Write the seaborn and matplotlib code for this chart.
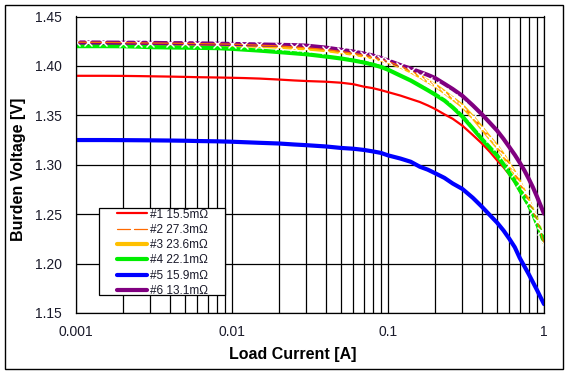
import matplotlib
matplotlib.use("Agg")
import matplotlib.pyplot as plt
import matplotlib.patches as mpatches
from matplotlib.ticker import FixedLocator, FixedFormatter, NullFormatter
import seaborn as sns
import pandas as pd

# ---------------- data ----------------
current = [0.001, 0.0012, 0.0015, 0.002, 0.0025, 0.003, 0.004, 0.005, 0.006, 0.008,
           0.01, 0.012, 0.015, 0.02, 0.025, 0.03, 0.04, 0.05, 0.06, 0.07, 0.08, 0.09,
           0.1, 0.12, 0.14, 0.16, 0.18, 0.2, 0.23, 0.26, 0.3, 0.35, 0.4, 0.45, 0.5,
           0.55, 0.6, 0.65, 0.7, 0.75, 0.8, 0.85, 0.9, 0.95, 1.0]

v1 = [1.3900, 1.3900, 1.3900, 1.3899, 1.3897, 1.3895, 1.3892, 1.3889, 1.3886, 1.3883,
      1.3880, 1.3877, 1.3872, 1.3862, 1.3853, 1.3847, 1.3840, 1.3830, 1.3815, 1.3790,
      1.3775, 1.3755, 1.3735, 1.3700, 1.3665, 1.3635, 1.3600, 1.3565, 1.3510, 1.3465,
      1.3395, 1.3300, 1.3215, 1.3130, 1.3045, 1.2975, 1.2900, 1.2822, 1.2732, 1.2652,
      1.2577, 1.2492, 1.2392, 1.2307, 1.2207]

v2 = [1.4240, 1.4239, 1.4238, 1.4236, 1.4234, 1.4232, 1.4230, 1.4228, 1.4226, 1.4223,
      1.4220, 1.4216, 1.4210, 1.4202, 1.4192, 1.4183, 1.4166, 1.4146, 1.4128, 1.4110,
      1.4090, 1.4068, 1.4045, 1.3999, 1.3950, 1.3900, 1.3850, 1.3808, 1.3738, 1.3672,
      1.3597, 1.3482, 1.3372, 1.3272, 1.3186, 1.3096, 1.3000, 1.2915, 1.2815, 1.2720,
      1.2625, 1.2528, 1.2432, 1.2325, 1.2200]

v3 = [1.4228, 1.4227, 1.4227, 1.4226, 1.4225, 1.4224, 1.4222, 1.4220, 1.4218, 1.4215,
      1.4212, 1.4208, 1.4203, 1.4195, 1.4185, 1.4177, 1.4160, 1.4140, 1.4122, 1.4105,
      1.4085, 1.4063, 1.4040, 1.3995, 1.3945, 1.3895, 1.3845, 1.3805, 1.3735, 1.3670,
      1.3595, 1.3480, 1.3370, 1.3270, 1.3185, 1.3095, 1.3000, 1.2915, 1.2815, 1.2720,
      1.2625, 1.2530, 1.2435, 1.2330, 1.2215]

v4 = [1.4200, 1.4200, 1.4200, 1.4199, 1.4195, 1.4190, 1.4187, 1.4185, 1.4183, 1.4180,
      1.4173, 1.4165, 1.4155, 1.4140, 1.4128, 1.4118, 1.4095, 1.4075, 1.4055, 1.4035,
      1.4013, 1.3990, 1.3962, 1.3902, 1.3852, 1.3800, 1.3754, 1.3711, 1.3650, 1.3580,
      1.3488, 1.3366, 1.3259, 1.3172, 1.3094, 1.3004, 1.2915, 1.2835, 1.2745, 1.2665,
      1.2590, 1.2505, 1.2405, 1.2320, 1.2220]

v5 = [1.3250, 1.3250, 1.3250, 1.3249, 1.3248, 1.3247, 1.3245, 1.3243, 1.3240, 1.3237,
      1.3233, 1.3228, 1.3222, 1.3215, 1.3205, 1.3198, 1.3185, 1.3170, 1.3162, 1.3150,
      1.3135, 1.3120, 1.3095, 1.3063, 1.3030, 1.2980, 1.2950, 1.2915, 1.2867, 1.2810,
      1.2755, 1.2665, 1.2575, 1.2490, 1.2415, 1.2335, 1.2250, 1.2165, 1.2055, 1.1970,
      1.1890, 1.1810, 1.1735, 1.1660, 1.1590]

v6 = [1.4237, 1.4237, 1.4236, 1.4235, 1.4234, 1.4233, 1.4230, 1.4230, 1.4228, 1.4225,
      1.4222, 1.4220, 1.4217, 1.4213, 1.4210, 1.4205, 1.4185, 1.4163, 1.4145, 1.4125,
      1.4105, 1.4080, 1.4055, 1.4008, 1.3972, 1.3939, 1.3909, 1.3878, 1.3819, 1.3766,
      1.3697, 1.3600, 1.3510, 1.3424, 1.3346, 1.3262, 1.3178, 1.3100, 1.3020, 1.2940,
      1.2855, 1.2770, 1.2680, 1.2590, 1.2505]

labels = ["#1 15.5m\u03a9", "#2 27.3m\u03a9", "#3 23.6m\u03a9",
          "#4 22.1m\u03a9", "#5 15.9m\u03a9", "#6 13.1m\u03a9"]
colors = ["#ff0000", "#ff6a00", "#ffc000", "#00ee00", "#0000ff", "#800080"]
series = [v1, v2, v3, v4, v5, v6]

x_ticks = [0.001, 0.01, 0.1, 1]
x_tick_labels = ["0.001", "0.01", "0.1", "1"]
y_ticks = [1.15, 1.20, 1.25, 1.30, 1.35, 1.40, 1.45]
y_tick_labels = ["1.15", "1.20", "1.25", "1.30", "1.35", "1.40", "1.45"]

# ---------------- figure ----------------
sns.set_theme(style="white")
plt.rcParams['font.family'] = ['Liberation Sans', 'DejaVu Sans']

W, H = 568, 374
fig = plt.figure(figsize=(W / 100, H / 100), dpi=100)
fig.patch.set_facecolor("white")
L, R, T, B = 76, 544, 16.5, 313
ax = fig.add_axes([L / W, 1 - B / H, (R - L) / W, (B - T) / H])
ax.set_facecolor("white")

styles = {
    0: dict(lw=1.6),
    1: dict(lw=0.9, marker="x", markersize=6, markeredgewidth=1.0),
    2: dict(lw=3.0),
    3: dict(lw=3.0),
    4: dict(lw=3.0),
    5: dict(lw=3.0),
}
order = [0, 2, 3, 4, 5, 1]
zorders = {0: 2.0, 2: 2.1, 3: 2.2, 4: 2.3, 5: 2.4, 1: 2.5}
for i in order:
    df = pd.DataFrame({"I": current, "V": series[i]})
    sns.lineplot(data=df, x="I", y="V", ax=ax, color=colors[i], label=labels[i],
                 zorder=zorders[i], legend=False, **styles[i])

ax.set_xscale("log")
ax.set_xlim(0.001, 1)
ax.set_ylim(1.15, 1.45)

ax.xaxis.set_major_locator(FixedLocator(x_ticks))
ax.xaxis.set_major_formatter(FixedFormatter(x_tick_labels))
ax.xaxis.set_minor_formatter(NullFormatter())
ax.yaxis.set_major_locator(FixedLocator(y_ticks))
ax.yaxis.set_major_formatter(FixedFormatter(y_tick_labels))

ax.grid(True, which="both", axis="x", color="black", lw=0.9)
ax.grid(True, which="major", axis="y", color="black", lw=0.9)
ax.tick_params(axis="both", which="both", length=0, labelsize=10, colors="#1a1a2a")
ax.tick_params(axis="y", pad=10)
ax.tick_params(axis="x", pad=9)
for s in ax.spines.values():
    s.set_color("black")
    s.set_linewidth(0.9)

ax.set_xlabel("Load Current [A]", fontsize=11.5, color="black", fontweight="bold")
ax.set_ylabel("Burden Voltage [V]", fontsize=11.5, color="black", fontweight="bold")
ax.xaxis.set_label_coords((293 - L) / (R - L), -(354 - B) / (B - T))
ax.xaxis.label.set_va("center")
ax.yaxis.set_label_coords(-(L - 19) / (R - L), 1 - (169 - T) / (B - T))
ax.yaxis.label.set_va("center")

# legend box
box = mpatches.Rectangle((98.5 / W, 1 - 295 / H), (225 - 98.5) / W, (295 - 207.5) / H,
                         transform=fig.transFigure, facecolor="white", edgecolor="black",
                         lw=0.9, zorder=4, clip_on=False)
ax.add_patch(box)
handles, lbls = ax.get_legend_handles_labels()
hl = dict(zip(lbls, handles))
leg = ax.legend([hl[l] for l in labels], labels, loc="upper left",
                bbox_to_anchor=(117 / W, 1 - 208.5 / H), bbox_transform=fig.transFigure,
                frameon=False, fontsize=8.5, handlelength=2.5, handletextpad=0.3,
                labelspacing=0.28, borderpad=0, borderaxespad=0)
leg.set_zorder(5)
for t in leg.get_texts():
    t.set_color("#1a1a2a")

# outer border
fig.add_artist(mpatches.Rectangle((5 / W, 1 - 369 / H), (563 - 5) / W, (369 - 5) / H,
                                  transform=fig.transFigure, facecolor="none",
                                  edgecolor="black", lw=1.0))

fig.savefig("out.png", dpi=100)
